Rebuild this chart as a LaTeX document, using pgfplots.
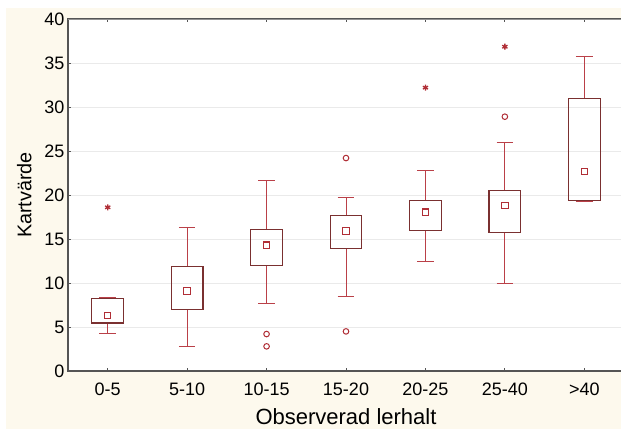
\documentclass[border=0pt]{standalone}
\usepackage{pgfplots}
\pgfplotsset{compat=1.18}
\usepackage{fontspec}
\setmainfont{Liberation Sans}
\usepgfplotslibrary{statistics}
\definecolor{cream}{RGB}{253,249,237}
\definecolor{boxcol}{RGB}{122,48,48}
\definecolor{whiskcol}{RGB}{186,64,72}
\definecolor{markcol}{RGB}{176,46,54}
\definecolor{gridcol}{RGB}{234,234,234}
\definecolor{framecol}{RGB}{85,85,85}
\begin{document}
\begin{tikzpicture}
\fill[white] (0,0) rectangle (621pt,429pt);
\fill[cream] (6pt,0) rectangle (621pt,421pt);
\begin{axis}[
  at={(68pt,58pt)}, anchor=south west,
  scale only axis, width=556pt, height=352pt,
  xmin=-0.5, xmax=6.5, ymin=0, ymax=40,
  axis background/.style={fill=white},
  xtick={0,1,2,3,4,5,6},
  xticklabels={0-5,5-10,10-15,15-20,20-25,25-40,>40},
  ytick={0,5,...,40},
  ymajorgrids, grid style={gridcol, line width=0.9pt},
  tick align=inside, major tick length=3pt,
  tick style={framecol, line width=0.8pt},
  axis line style={framecol, line width=1.1pt},
  /pgf/number format/assume math mode=true,
  tick label style={font=\fontsize{18}{21}\selectfont, text=black},
  xticklabel style={anchor=base, yshift=-24pt},
  yticklabel style={anchor=east},
  xlabel={Observerad lerhalt}, ylabel={Kartvärde},
  xlabel style={font=\fontsize{22}{26}\selectfont, at={(axis description cs:0.5,-0.1506)}, anchor=base},
  ylabel style={font=\fontsize{19.8}{24}\selectfont, at={(axis description cs:-0.0785,0.5)}, anchor=center},
  boxplot/draw direction=y,
  boxplot/box extend=0.40,
  boxplot/whisker extend=0.21,
  boxplot/every box/.style={draw=boxcol, line width=1.2pt},
  boxplot/every whisker/.style={draw=whiskcol, line width=1pt},
  boxplot/draw/median/.code={},
]
\addplot[boxplot prepared={draw position=0, lower whisker=4.3, lower quartile=5.45, median=6.3, upper quartile=8.25, upper whisker=8.4}] coordinates {};
\addplot[boxplot prepared={draw position=1, lower whisker=2.8, lower quartile=7.0, median=9.1, upper quartile=11.9, upper whisker=16.3}] coordinates {};
\addplot[boxplot prepared={draw position=2, lower whisker=7.7, lower quartile=12.0, median=14.3, upper quartile=16.1, upper whisker=21.7}] coordinates {};
\addplot[boxplot prepared={draw position=3, lower whisker=8.5, lower quartile=13.9, median=15.9, upper quartile=17.65, upper whisker=19.7}] coordinates {};
\addplot[boxplot prepared={draw position=4, lower whisker=12.45, lower quartile=16.0, median=18.05, upper quartile=19.35, upper whisker=22.8}] coordinates {};
\addplot[boxplot prepared={draw position=5, lower whisker=9.95, lower quartile=15.7, median=18.8, upper quartile=20.5, upper whisker=26.0}] coordinates {};
\addplot[boxplot prepared={draw position=6, lower whisker=19.25, lower quartile=19.4, median=22.65, upper quartile=31.0, upper whisker=35.7}] coordinates {};
% medians
\addplot[only marks, mark=square, mark size=3.2pt, mark options={draw=markcol, fill=white, line width=1.1pt}]
  coordinates {(0,6.3) (1,9.1) (2,14.3) (3,15.9) (4,18.05) (5,18.8) (6,22.65)};
% outliers
\addplot[only marks, mark=o, mark size=2.8pt, mark options={draw=markcol, line width=1pt}]
  coordinates {(2,4.2) (2,2.8) (3,4.5) (3,24.2) (5,28.9)};
% extremes
\addplot[only marks, mark=asterisk, mark size=3pt, mark options={draw=markcol, line width=1.3pt}]
  coordinates {(0,18.6) (4,32.2) (5,36.85)};
\draw[gray!85, line width=2pt] (rel axis cs:0,1) -- (rel axis cs:1,1);
\end{axis}
\pgfresetboundingbox
\path[use as bounding box] (0,0) rectangle (621pt,429pt);
\end{tikzpicture}
\end{document}
